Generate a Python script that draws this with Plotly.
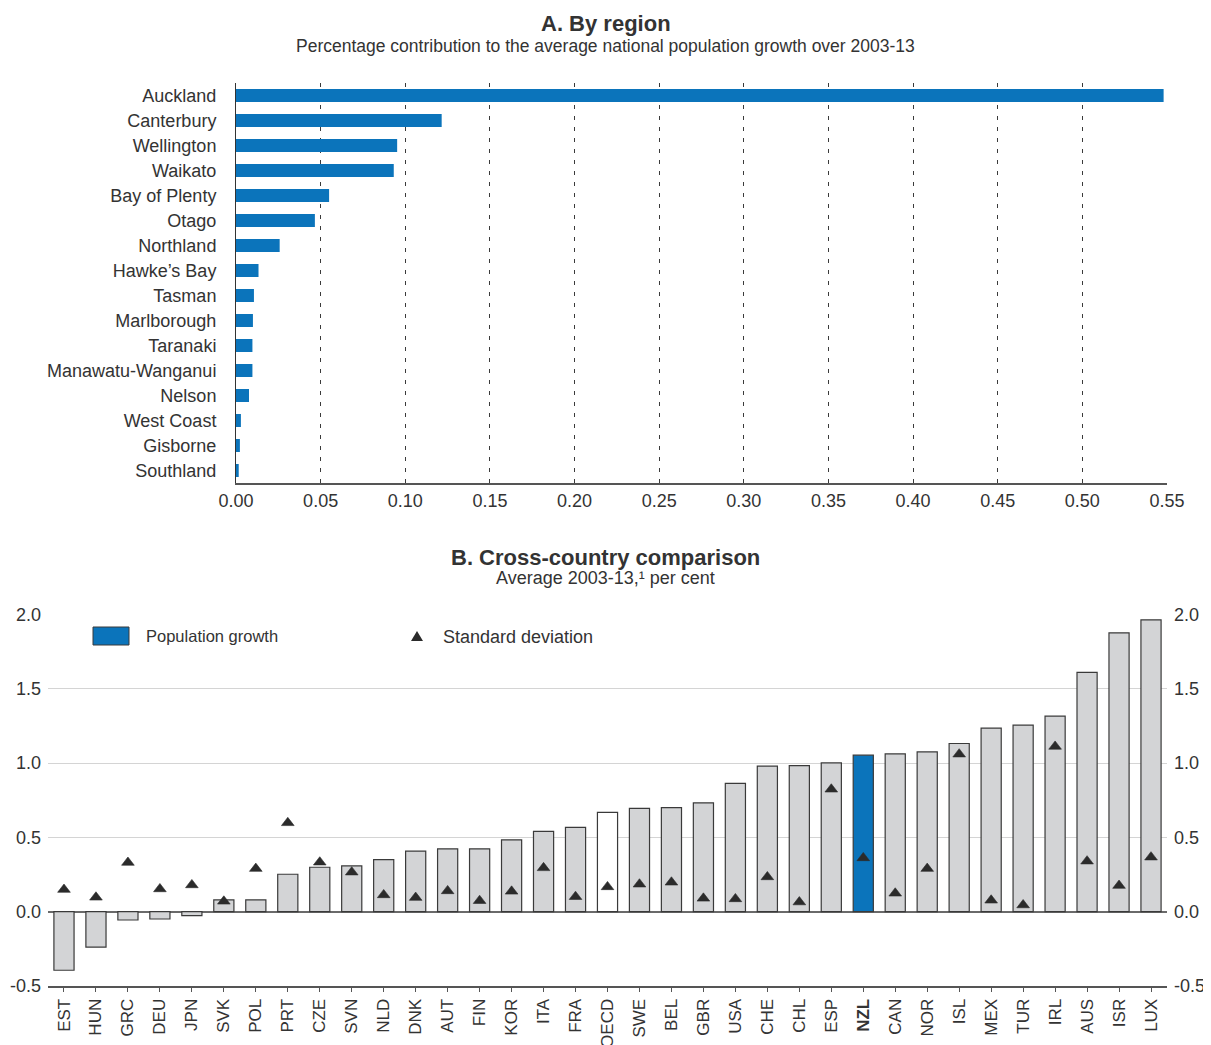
import plotly.graph_objects as go

# The page puts the figure 8px in from the top-left corner (default body margin),
# so the figure is made 8px smaller and every reference pixel position is shifted.
OFF = 8
W, H = 1211 - OFF, 1045 - OFF

# ---------------- data ----------------
regions = ["Auckland", "Canterbury", "Wellington", "Waikato", "Bay of Plenty", "Otago",
           "Northland", "Hawke’s Bay", "Tasman", "Marlborough", "Taranaki",
           "Manawatu-Wanganui", "Nelson", "West Coast", "Gisborne", "Southland"]
region_contrib = [0.548, 0.1215, 0.0952, 0.0932, 0.055, 0.0466,
                  0.0258, 0.0133, 0.0106, 0.0100, 0.0097,
                  0.0097, 0.0077, 0.0029, 0.0023, 0.0016]

countries = ["EST", "HUN", "GRC", "DEU", "JPN", "SVK", "POL", "PRT", "CZE", "SVN", "NLD",
             "DNK", "AUT", "FIN", "KOR", "ITA", "FRA", "OECD", "SWE", "BEL", "GBR", "USA",
             "CHE", "CHL", "ESP", "NZL", "CAN", "NOR", "ISL", "MEX", "TUR", "IRL", "AUS",
             "ISR", "LUX"]
pop_growth = [-0.394, -0.238, -0.056, -0.049, -0.027, 0.079, 0.079, 0.252, 0.299, 0.308, 0.351,
              0.407, 0.423, 0.423, 0.484, 0.540, 0.567, 0.668, 0.695, 0.700, 0.733, 0.864,
              0.979, 0.983, 1.001, 1.053, 1.062, 1.075, 1.132, 1.235, 1.255, 1.316, 1.611,
              1.877, 1.964]
std_dev = [0.149, 0.097, 0.331, 0.153, 0.180, 0.070, 0.290, 0.598, 0.333, 0.266, 0.113,
           0.095, 0.140, 0.074, 0.137, 0.295, 0.101, 0.167, 0.185, 0.198, 0.090, 0.086,
           0.234, 0.065, 0.824, 0.362, 0.124, 0.290, 1.060, 0.077, 0.045, 1.112, 0.340,
           0.176, 0.367]

top_xticks = [0.00, 0.05, 0.10, 0.15, 0.20, 0.25, 0.30, 0.35, 0.40, 0.45, 0.50, 0.55]
bottom_yticks = [-0.5, 0.0, 0.5, 1.0, 1.5, 2.0]
bottom_yticktext = ["-0.5", "0.0", "0.5", "1.0", "1.5", "2.0"]

# ---------------- styles ----------------
FONT = "Liberation Sans, Arial, sans-serif"
TXT = "#333333"
BLUE = "#0b74bb"
GREY = "#d3d4d6"
EDGE = "#3a3a3a"


def px(x):
    return (x - OFF) / W


def py(y):
    return 1 - (y - OFF) / H


bar_colors = []
for c in countries:
    if c == "NZL":
        bar_colors.append(BLUE)
    elif c == "OECD":
        bar_colors.append("#ffffff")
    else:
        bar_colors.append(GREY)

ticktext_countries = ["<b>NZL</b>" if c == "NZL" else c for c in countries]

fig = go.Figure()

# Panel A
fig.add_trace(go.Bar(
    x=region_contrib, y=regions, orientation="h",
    marker=dict(color=BLUE, line=dict(width=0)),
    width=0.52, xaxis="x", yaxis="y", showlegend=False,
))

# Panel B bars
fig.add_trace(go.Bar(
    x=countries, y=pop_growth,
    marker=dict(color=bar_colors, line=dict(color=EDGE, width=1.2)),
    width=0.63, xaxis="x2", yaxis="y2", showlegend=False,
))

# Panel B triangles
fig.add_trace(go.Scatter(
    x=countries, y=std_dev, mode="markers",
    marker=dict(symbol="triangle-up", size=11, color="#2b2b2b",
                line=dict(color="#2b2b2b", width=0.6)),
    xaxis="x2", yaxis="y3", showlegend=False,
))

top_x_dom = [px(236), px(1167)]
top_y_dom = [py(483), py(83)]
bot_x_dom = [px(48), px(1167)]
bot_y_dom = [py(986), py(614.5)]

fig.update_layout(
    width=W, height=H, autosize=False,
    margin=dict(l=0, r=0, t=0, b=0, autoexpand=False),
    paper_bgcolor="white", plot_bgcolor="white",
    font=dict(family=FONT, color=TXT, size=18),
    xaxis=dict(
        domain=top_x_dom, anchor="y", range=[0, 0.55], automargin=False,
        tickvals=top_xticks, tickformat=".2f",
        showgrid=True, gridcolor="#3a3a3a", gridwidth=1, griddash="4px,7px",
        showline=True, linecolor="#555555", linewidth=2,
        ticks="", zeroline=False,
        tickfont=dict(size=18, color=TXT),
    ),
    yaxis=dict(
        domain=top_y_dom, anchor="x", automargin=False,
        categoryorder="array", categoryarray=regions, autorange="reversed",
        showline=True, linecolor="#333333", linewidth=1,
        ticks="", showgrid=False, ticklabelstandoff=15,
        tickfont=dict(size=18, color=TXT),
    ),
    xaxis2=dict(
        domain=bot_x_dom, anchor="y2", type="category", automargin=False,
        categoryorder="array", categoryarray=countries,
        range=[-0.5, len(countries) - 0.5],
        tickvals=countries, ticktext=ticktext_countries, tickangle=-90,
        showline=True, linecolor="#555555", linewidth=2,
        ticks="outside", ticklen=4, tickcolor="#555555", tickwidth=1,
        showgrid=False, zeroline=False,
        tickfont=dict(size=17, color=TXT),
    ),
    yaxis2=dict(
        domain=bot_y_dom, anchor="x2", range=[-0.5, 2.0], automargin=False,
        tickvals=bottom_yticks, ticktext=bottom_yticktext,
        showgrid=True, gridcolor="#d4d4d4", gridwidth=1,
        zeroline=True, zerolinecolor="#6a6a6a", zerolinewidth=2,
        showline=False, ticks="", ticklabelstandoff=6,
        tickfont=dict(size=18, color=TXT),
    ),
    yaxis3=dict(
        overlaying="y2", anchor="x2", side="right", range=[-0.5, 2.0], automargin=False,
        tickvals=bottom_yticks, ticktext=bottom_yticktext,
        showgrid=False, zeroline=False, showline=False, ticks="",
        ticklabelstandoff=6,
        tickfont=dict(size=18, color=TXT),
    ),
    shapes=[
        dict(type="rect", xref="paper", yref="paper",
             x0=px(93), x1=px(129), y0=py(645), y1=py(627),
             fillcolor=BLUE, line=dict(color=EDGE, width=1)),
        dict(type="path", xref="paper", yref="paper",
             path=f"M {px(411)},{py(641)} L {px(423)},{py(641)} L {px(417)},{py(631)} Z",
             fillcolor="#2b2b2b", line=dict(width=0)),
    ],
    annotations=[
        dict(text="<b>A. By region</b>", x=px(605.5), y=py(24), xref="paper", yref="paper",
             showarrow=False, xanchor="center", yanchor="middle",
             font=dict(size=22, color=TXT, family=FONT)),
        dict(text="Percentage contribution to the average national population growth over 2003-13",
             x=px(605.5), y=py(46), xref="paper", yref="paper",
             showarrow=False, xanchor="center", yanchor="middle",
             font=dict(size=17.5, color=TXT, family=FONT)),
        dict(text="<b>B. Cross-country comparison</b>", x=px(605.5), y=py(557), xref="paper", yref="paper",
             showarrow=False, xanchor="center", yanchor="middle",
             font=dict(size=22, color=TXT, family=FONT)),
        dict(text="Average 2003-13,¹ per cent", x=px(605.5), y=py(578), xref="paper", yref="paper",
             showarrow=False, xanchor="center", yanchor="middle",
             font=dict(size=18, color=TXT, family=FONT)),
        dict(text="Population growth", x=px(144), y=py(636), xref="paper", yref="paper",
             showarrow=False, xanchor="left", yanchor="middle",
             font=dict(size=16.5, color=TXT, family=FONT)),
        dict(text="Standard deviation", x=px(441), y=py(637), xref="paper", yref="paper",
             showarrow=False, xanchor="left", yanchor="middle",
             font=dict(size=18, color=TXT, family=FONT)),
    ],
)

fig.write_html("out.html")
